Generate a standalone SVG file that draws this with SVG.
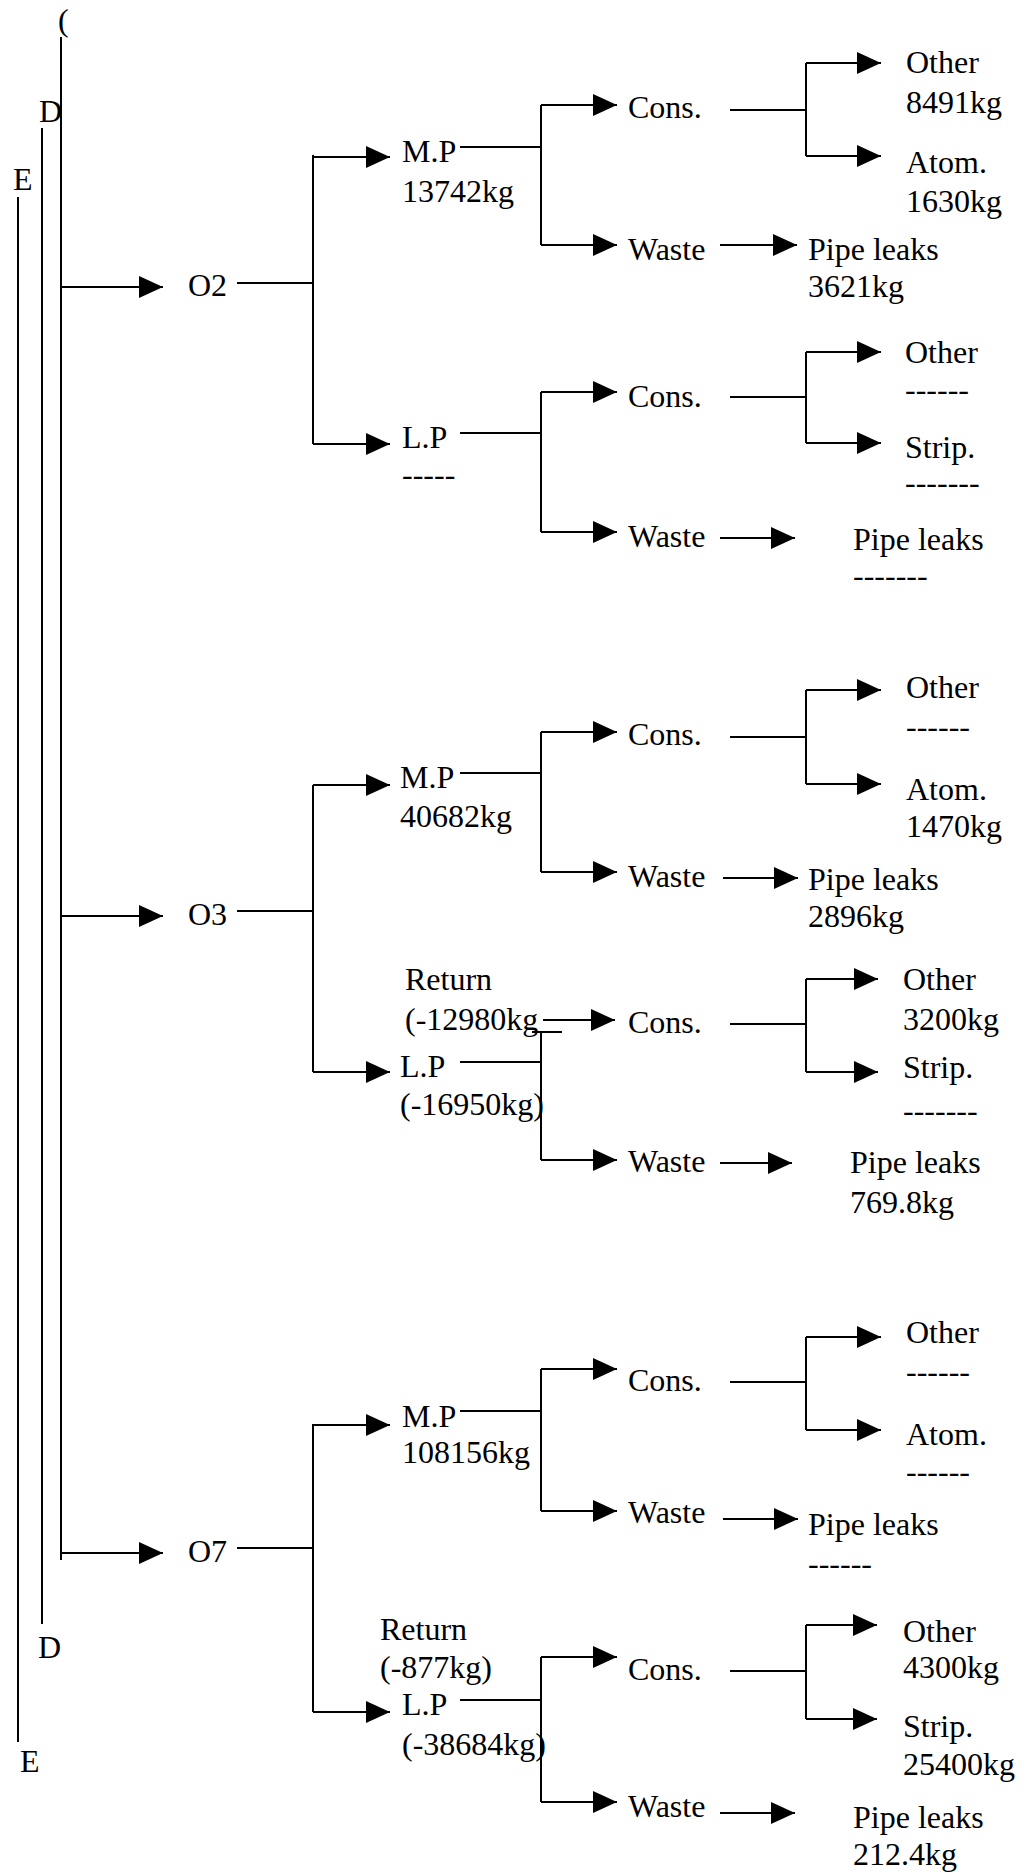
<svg xmlns="http://www.w3.org/2000/svg" width="1032" height="1872" viewBox="0 0 1032 1872">
<style>
.t{font-family:"Liberation Serif","Times New Roman",serif;font-size:32px;fill:#000}
.c path{fill:none;stroke:#000;stroke-width:2}
.a{marker-end:url(#ah)}
</style>
<defs>
<marker id="ah" markerUnits="userSpaceOnUse" markerWidth="26" markerHeight="24" refX="24" refY="11" orient="auto"><path d="M0,0 L24,11 L0,22 z" fill="#000"/></marker>
</defs>
<rect width="1032" height="1872" fill="#fff"/>
<g id="connectors" class="c">
<path d="M61,37 V1560"/>
<path d="M42,128 V1624"/>
<path d="M18,197 V1742"/>
<path class="a" d="M61,287 H163"/>
<path class="a" d="M61,916 H163"/>
<path class="a" d="M61,1553 H163"/>
<path d="M237,283 H313"/>
<path d="M237,911 H313"/>
<path d="M237,1548 H313"/>
<path d="M313,155 V444"/>
<path d="M313,785 V1072"/>
<path d="M313,1424 V1712"/>
<path class="a" d="M313,157 H390"/>
<path class="a" d="M313,444 H390"/>
<path class="a" d="M313,785 H390"/>
<path class="a" d="M313,1072 H390"/>
<path class="a" d="M313,1425 H390"/>
<path class="a" d="M313,1712 H390"/>
<path d="M460,147 H541"/>
<path d="M460,433 H541"/>
<path d="M460,773 H541"/>
<path d="M460,1062 H541"/>
<path d="M460,1411 H541"/>
<path d="M460,1700 H541"/>
<path d="M541,105 V245"/>
<path d="M541,392 V532"/>
<path d="M541,732 V872"/>
<path d="M541,1032 V1160"/>
<path d="M532,1032 H562"/>
<path d="M541,1369 V1511"/>
<path d="M541,1657 V1802"/>
<path class="a" d="M541,105 H617"/>
<path class="a" d="M541,245 H617"/>
<path class="a" d="M541,392 H617"/>
<path class="a" d="M541,532 H617"/>
<path class="a" d="M541,732 H617"/>
<path class="a" d="M541,872 H617"/>
<path class="a" d="M543,1020 H615"/>
<path class="a" d="M541,1160 H617"/>
<path class="a" d="M541,1369 H617"/>
<path class="a" d="M541,1511 H617"/>
<path class="a" d="M541,1657 H617"/>
<path class="a" d="M541,1802 H617"/>
<path d="M730,110 H806"/>
<path d="M730,397 H806"/>
<path d="M730,737 H806"/>
<path d="M730,1024 H806"/>
<path d="M730,1382 H806"/>
<path d="M730,1671 H806"/>
<path d="M806,63 V156"/>
<path d="M806,352 V443"/>
<path d="M806,690 V784"/>
<path d="M806,979 V1072"/>
<path d="M806,1337 V1430"/>
<path d="M806,1625 V1719"/>
<path class="a" d="M806,63 H881"/>
<path class="a" d="M806,156 H881"/>
<path class="a" d="M806,352 H881"/>
<path class="a" d="M806,443 H881"/>
<path class="a" d="M806,690 H881"/>
<path class="a" d="M806,784 H881"/>
<path class="a" d="M806,979 H878"/>
<path class="a" d="M806,1072 H878"/>
<path class="a" d="M806,1337 H881"/>
<path class="a" d="M806,1430 H881"/>
<path class="a" d="M806,1625 H877"/>
<path class="a" d="M806,1719 H877"/>
<path class="a" d="M720,245 H797"/>
<path class="a" d="M720,538 H795"/>
<path class="a" d="M723,878 H798"/>
<path class="a" d="M720,1163 H792"/>
<path class="a" d="M723,1519 H798"/>
<path class="a" d="M720,1813 H795"/>
</g>
<g id="labels-CDE">
<text class="t" x="58" y="31">(</text>
<text class="t" x="39" y="122">D</text>
<text class="t" x="13" y="190">E</text>
<text class="t" x="38" y="1658">D</text>
<text class="t" x="20" y="1772">E</text>
</g>
<g id="O2"><text class="t" x="188" y="296">O2</text></g>
<g id="O3"><text class="t" x="188" y="925">O3</text></g>
<g id="O7"><text class="t" x="188" y="1562">O7</text></g>
<g id="O2-MP"><text class="t" x="402" y="162">M.P</text><text class="t" x="402" y="202">13742kg</text></g>
<g id="O2-LP"><text class="t" x="402" y="448">L.P</text><text class="t" x="402" y="485">-----</text></g>
<g id="O3-MP"><text class="t" x="400" y="788">M.P</text><text class="t" x="400" y="827">40682kg</text></g>
<g id="O3-LP"><text class="t" x="405" y="990">Return</text><text class="t" x="405" y="1030">(-12980kg</text><text class="t" x="400" y="1077">L.P</text><text class="t" x="400" y="1115">(-16950kg)</text></g>
<g id="O7-MP"><text class="t" x="402" y="1427">M.P</text><text class="t" x="402" y="1463">108156kg</text></g>
<g id="O7-LP"><text class="t" x="380" y="1640">Return</text><text class="t" x="380" y="1678">(-877kg)</text><text class="t" x="402" y="1715">L.P</text><text class="t" x="402" y="1755">(-38684kg)</text></g>
<g id="O2-MP-cons"><text class="t" x="628" y="118">Cons.</text></g>
<g id="O2-MP-waste"><text class="t" x="628" y="260">Waste</text></g>
<g id="O2-LP-cons"><text class="t" x="628" y="407">Cons.</text></g>
<g id="O2-LP-waste"><text class="t" x="628" y="547">Waste</text></g>
<g id="O3-MP-cons"><text class="t" x="628" y="745">Cons.</text></g>
<g id="O3-MP-waste"><text class="t" x="628" y="887">Waste</text></g>
<g id="O3-LP-cons"><text class="t" x="628" y="1033">Cons.</text></g>
<g id="O3-LP-waste"><text class="t" x="628" y="1172">Waste</text></g>
<g id="O7-MP-cons"><text class="t" x="628" y="1391">Cons.</text></g>
<g id="O7-MP-waste"><text class="t" x="628" y="1523">Waste</text></g>
<g id="O7-LP-cons"><text class="t" x="628" y="1680">Cons.</text></g>
<g id="O7-LP-waste"><text class="t" x="628" y="1817">Waste</text></g>
<g id="O2-MP-other"><text class="t" x="906" y="73">Other</text><text class="t" x="906" y="113">8491kg</text></g>
<g id="O2-MP-atom"><text class="t" x="906" y="173">Atom.</text><text class="t" x="906" y="212">1630kg</text></g>
<g id="O2-MP-pipe"><text class="t" x="808" y="260">Pipe leaks</text><text class="t" x="808" y="297">3621kg</text></g>
<g id="O2-LP-other"><text class="t" x="905" y="363">Other</text><text class="t" x="905" y="400">------</text></g>
<g id="O2-LP-strip"><text class="t" x="905" y="458">Strip.</text><text class="t" x="905" y="493">-------</text></g>
<g id="O2-LP-pipe"><text class="t" x="853" y="550">Pipe leaks</text><text class="t" x="853" y="586">-------</text></g>
<g id="O3-MP-other"><text class="t" x="906" y="698">Other</text><text class="t" x="906" y="737">------</text></g>
<g id="O3-MP-atom"><text class="t" x="906" y="800">Atom.</text><text class="t" x="906" y="837">1470kg</text></g>
<g id="O3-MP-pipe"><text class="t" x="808" y="890">Pipe leaks</text><text class="t" x="808" y="927">2896kg</text></g>
<g id="O3-LP-other"><text class="t" x="903" y="990">Other</text><text class="t" x="903" y="1030">3200kg</text></g>
<g id="O3-LP-strip"><text class="t" x="903" y="1078">Strip.</text><text class="t" x="903" y="1121">-------</text></g>
<g id="O3-LP-pipe"><text class="t" x="850" y="1173">Pipe leaks</text><text class="t" x="850" y="1213">769.8kg</text></g>
<g id="O7-MP-other"><text class="t" x="906" y="1343">Other</text><text class="t" x="906" y="1382">------</text></g>
<g id="O7-MP-atom"><text class="t" x="906" y="1445">Atom.</text><text class="t" x="906" y="1482">------</text></g>
<g id="O7-MP-pipe"><text class="t" x="808" y="1535">Pipe leaks</text><text class="t" x="808" y="1574">------</text></g>
<g id="O7-LP-other"><text class="t" x="903" y="1642">Other</text><text class="t" x="903" y="1678">4300kg</text></g>
<g id="O7-LP-strip"><text class="t" x="903" y="1737">Strip.</text><text class="t" x="903" y="1775">25400kg</text></g>
<g id="O7-LP-pipe"><text class="t" x="853" y="1828">Pipe leaks</text><text class="t" x="853" y="1865">212.4kg</text></g>
</svg>
